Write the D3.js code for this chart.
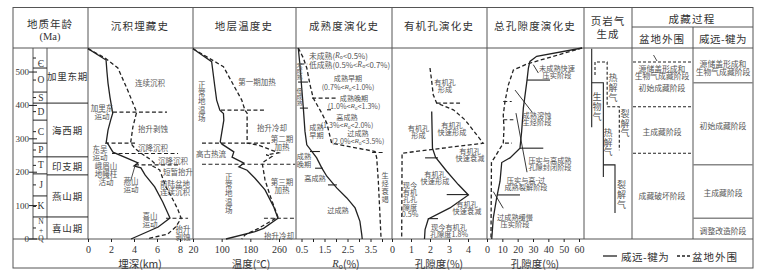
<!DOCTYPE html>
<html><head><meta charset="utf-8">
<script src="https://cdn.jsdelivr.net/npm/d3@7"></script>
<style>
body{margin:0;background:#fff}
svg{display:block}
text{font-family:"Noto Sans CJK SC","Noto Sans",sans-serif;fill:#555}
.num{font-family:"Liberation Serif","DejaVu Serif",serif}
.head{fill:#333}
.vt{writing-mode:vertical-rl;text-orientation:upright}
</style></head><body><svg id="chart"></svg>
<script>
// 地质年龄 (Ma) 刻度与分期
const ageTicks = [0, 100, 200, 300, 400, 500];
const periods = ["Є", "O", "S", "D", "C", "P", "T", "J", "K", "N+Q"];
const periodBounds = [572, 512, 440, 407, 356, 287, 246, 195, 129, 66, 0];
const eras = ["加里东期", "海西期", "印支期", "燕山期", "喜山期"];
const eraBounds = [572, 407, 246, 192, 66, 0];

// 曲线数据 [年龄Ma, 值]，实线=威远-犍为，虚线=盆地外围
const burialSolid = [[570,0],[536,1.57],[500,1.65],[467,1.74],[425,1.91],[377,2.15],[356,1.97],[326,1.74],[291,1.59],[281,1.8],[260,2.17],[237,3.74],[228,4.35],[219,4.0],[213,4.6],[192,4.96],[156,5.8],[111,6.5],[63,7.13],[36,6.1],[0,3.74]];
const burialDashed = [[570,0],[542,1.48],[512,2.6],[452,3.37],[416,3.8],[380,4.23],[335,3.9],[305,3.78],[287,3.7],[272,4.06],[257,4.6],[237,5.48],[226,5.8],[218,5.65],[207,6.23],[156,6.78],[117,7.4],[87,7.83],[62,8.1],[37,7.65],[15,6.95],[0,5.1]];
const tempSolid = [[570,20],[531,72],[456,81],[416,86],[386,95],[376,105],[356,106],[291,96],[284,101],[261,134],[245,129],[227,162],[216,148],[206,171],[182,193],[147,221],[97,245],[62,257],[32,217],[22,193],[0,112]];
const tempDashed = [[570,20],[516,105],[416,156],[386,165],[377,171],[287,171],[281,203],[258,259],[252,224],[247,240],[228,213],[177,221],[127,236],[66,257],[32,203],[12,165],[0,156]];
const roSolid = [[572,0.36],[522,0.43],[452,0.51],[392,0.58],[323,0.65],[282,0.73],[263,0.94],[243,1.16],[213,1.38],[188,1.6],[153,2.03],[123,2.47],[93,2.83],[53,3.04],[13,3.12],[0,3.14]];
const roDashed = [[572,0.36],[542,0.58],[512,0.73],[462,0.87],[422,1.01],[377,1.38],[347,1.6],[307,1.74],[287,1.81],[262,3.7],[243,3.77],[173,3.84],[73,3.91],[0,3.96]];
const orgSolid = [[382,2.09],[272,2.13],[245,2.29],[203,2.88],[163,3.49],[132,4.02],[93,3.05],[60,1.91],[28,1.74],[0,1.71]];
const orgDashed = [[512,2.0],[472,2.09],[432,2.17],[407,2.35],[387,3.23],[357,3.84],[287,4.8],[257,0.53],[0,0.51]];
const totSolid = [[572,62],[547,32.4],[532,28],[512,27],[472,26],[392,23.7],[322,22.6],[272,21.5],[243,15],[229,9.6],[173,8.5],[123,6.3],[63,4.1],[0,3.1]];
const totDashed = [[572,62],[524,26],[506,17.2],[461,13.9],[411,11.7],[371,10.6],[332,11.1],[287,10.6],[246,5.2],[230,2.9],[0,2.6]];

// 事件/阶段分界线 [年龄, 起值, 止值]
const burialMarks = [[380,2.17,6.87],[287,1.48,4.26],[256,2.09,7.83],[222,4.09,8.0],[62,6.78,8.7]];
const tempMarks = [[386,98,221],[287,45,235],[224,45,305],[62,218,305]];
const roDashMarks = [[524,0.45,0.75],[422,0.96,2.09],[387,1.61,1.87],[259,3.57,4.13]];
const roSolidMarks = [[470,0.35,0.78],[392,0.43,0.78],[262,0.87,1.3],[212,1.09,1.43],[162,1.65,2.04]];
const orgDashMarks = [[407,2.35,3.58]];
const orgSolidMarks = [[243,1.74,2.42],[133,2.88,4.02],[61,1.89,2.42]];
const totSolidMarks = [[476,26.1,41.1],[272,21.5,36.7],[132,6.5,21.5]];
const totDashMarks = [[412,10.6,16.1],[357,10.6,17.2],[287,11.7,16.3]];
const totLeaders = [[[446,18.3],[380,29.4]],[[377,18.9],[200,26.1]],[[142,4.1],[92,10.6]],[[522,30.2],[497,33.5]]];

// 页岩气生成阶段 [年龄, 列号]
const gasSolidSteps = [[[570,0],[335,0]],[[468,0],[468,1],[186,1]],[[222,1],[222,2],[78,2]]];
const gasDashedSteps = [[[491,0],[530,0],[530,1],[396,1],[396,2],[266,2]]];

// 成藏阶段分界 (Ma)
const basinStages = [530, 396, 257];
const weiyuanStages = [468, 222, 62];

const W = 769, H = 275, plotTop = 48, plotBottom = 239;
const cols = [13, 88, 193, 296, 392, 487, 584, 632, 753];
const svg = d3.select("#chart").attr("width", W).attr("height", H);

const y = d3.scaleLinear().domain([0, 572]).range([plotBottom, plotTop]);
const xBurial = d3.scaleLinear().domain([0, 8]).range([88, 180]);
const xTemp = d3.scaleLinear().domain([20, 260]).range([193, 279]);
const xRo = d3.scaleLinear().domain([0.5, 3.5]).range([301.5, 370.5]);
const xOrg = d3.scaleLinear().domain([0, 4]).range([392, 468]);
const xTot = d3.scaleLinear().domain([0, 60]).range([487, 579]);
const xGasS = d3.scaleLinear().domain([0, 2]).range([591.7, 615]);
const xGasD = d3.scaleLinear().domain([0, 2]).range([595, 619.3]);

const ink = "#222", frame = "#555";

function hline(x1, x2, yy, color = frame, w = 1, dash = null) {
  svg.append("line").attr("x1", x1).attr("x2", x2).attr("y1", yy).attr("y2", yy)
    .attr("stroke", color).attr("stroke-width", w).attr("stroke-dasharray", dash);
}
function vline(xx, y1, y2, color = frame, w = 1, dash = null) {
  svg.append("line").attr("x1", xx).attr("x2", xx).attr("y1", y1).attr("y2", y2)
    .attr("stroke", color).attr("stroke-width", w).attr("stroke-dasharray", dash);
}
// 多行文字；"§" 处插入斜体 R 加下标 o
function label(x, yy, lines, size = 7.5, lh = size + 0.5, anchor = "middle", cls = null) {
  if (!Array.isArray(lines)) lines = [lines];
  const t = svg.append("text").attr("x", x).attr("y", yy).attr("font-size", size)
    .attr("text-anchor", anchor).attr("class", cls);
  lines.forEach((ln, i) => {
    const parts = String(ln).split("§");
    t.append("tspan").attr("x", x).attr("dy", i ? lh : 0).attr("dominant-baseline", "central").text(parts[0]);
    parts.slice(1).forEach(p => {
      t.append("tspan").attr("font-style", "italic").attr("class", "num").attr("dominant-baseline", "central").text("R");
      t.append("tspan").attr("font-size", size * 0.65).attr("dy", size * 0.25).attr("dominant-baseline", "central").text("o");
      t.append("tspan").attr("dy", -size * 0.25).attr("dominant-baseline", "central").text(p);
    });
  });
  return t;
}
// 竖排文字：y0 为首字中心，step 为字距
function vlabel(x, y0, str, step, size = 7.5, cls = "") {
  return svg.append("text").attr("class", "vt " + cls).attr("x", x).attr("y", y0 - size / 2)
    .attr("font-size", size).attr("letter-spacing", step - size).text(str);
}

// 外框与分栏
svg.append("rect").attr("x", 13).attr("y", 7.5).attr("width", 740).attr("height", 260.5)
  .attr("fill", "none").attr("stroke", frame);
hline(13, 753, plotTop); hline(13, 753, plotBottom); hline(632, 753, 27);
cols.slice(1, -1).forEach(c => vline(c, 7.5, plotBottom));
vline(693, 27, plotBottom);

// 表头
const hs = 10.5;
label(50, 23, "地质年龄", hs, 0, "middle", "head").attr("letter-spacing", 1);
label(50, 36, "(Ma)", hs, 0, "middle", "num head");
[["沉积埋藏史", 140], ["地层温度史", 244], ["成熟度演化史", 344], ["有机孔演化史", 439], ["总孔隙度演化史", 535]]
  .forEach(([t, x]) => label(x, 25, t, hs, 0, "middle", "head").attr("letter-spacing", 1.2));
label(608, 20, "页岩气", hs, 0, "middle", "head").attr("letter-spacing", 1);
label(608, 33, "生成", hs, 0, "middle", "head").attr("letter-spacing", 1);
label(692, 18, "成藏过程", hs, 0, "middle", "head").attr("letter-spacing", 1.2);
label(662, 38, "盆地外围", hs, 0, "middle", "head").attr("letter-spacing", 1);
label(723, 38, "威远-犍为", hs, 0, "middle", "head").attr("letter-spacing", 0.5);

// 地质年龄栏
vline(33, plotTop, plotBottom); vline(47, plotTop, plotBottom);
ageTicks.forEach(a => {
  hline(29, 37, y(a), ink);
  label(29, y(a), a, 9, 0, "end", "num head");
});
periods.forEach((p, i) => {
  const a0 = periodBounds[i], a1 = periodBounds[i + 1];
  if (i > 0) hline(33, 47, y(a0), ink);
  hline(33, 36, y((a0 + a1) / 2), ink);
  const cy = (y(a0) + y(a1)) / 2;
  if (p === "N+Q") vlabel(41, cy - 7, "N+Q", 7, 7.5, "num head");
  else label(41, cy + (i === 0 ? 6 : 0), p, 9.5, 0, "middle", "num head");
});
eras.forEach((e, i) => {
  const a0 = eraBounds[i], a1 = eraBounds[i + 1];
  if (i > 0) hline(47, 88, y(a0), ink);
  label(67.5, (y(a0) + y(a1)) / 2, e, 9.5, 0, "middle", "head").attr("letter-spacing", 0.8);
});

// 曲线
function curve(data, sx, dashed) {
  svg.append("path").datum(data)
    .attr("d", d3.line().x(d => sx(d[1])).y(d => y(d[0])))
    .attr("fill", "none").attr("stroke", ink).attr("stroke-width", 1.3)
    .attr("stroke-dasharray", dashed ? "4,2.5" : null);
}
function marks(list, sx, dashed, color = ink) {
  list.forEach(([a, v0, v1]) => hline(sx(v0), sx(v1), y(a), color, 1.1, dashed ? "4,2.5" : null));
}
curve(burialSolid, xBurial, false); curve(burialDashed, xBurial, true);
curve(tempSolid, xTemp, false); curve(tempDashed, xTemp, true);
curve(roSolid, xRo, false); curve(roDashed, xRo, true);
curve(orgSolid, xOrg, false); curve(orgDashed, xOrg, true);
curve(totSolid, xTot, false); curve(totDashed, xTot, true);
marks(burialMarks, xBurial, true); marks(tempMarks, xTemp, true);
marks(roDashMarks, xRo, true); marks(roSolidMarks, xRo, false);
marks(orgDashMarks, xOrg, true); marks(orgSolidMarks, xOrg, false);
marks(totSolidMarks, xTot, false); marks(totDashMarks, xTot, true);
totLeaders.forEach(seg => svg.append("path").datum(seg)
  .attr("d", d3.line().x(d => xTot(d[1])).y(d => y(d[0])))
  .attr("stroke", ink).attr("stroke-width", 0.9).attr("fill", "none"));
// 燕山运动引线
svg.append("path").datum([[174, 3.71], [216, 4.06]])
  .attr("d", d3.line().x(d => xBurial(d[1])).y(d => y(d[0])))
  .attr("stroke", ink).attr("stroke-width", 0.8);

// 页岩气生成
gasSolidSteps.forEach(s => svg.append("path").datum(s)
  .attr("d", d3.line().x(d => xGasS(d[1])).y(d => y(d[0])))
  .attr("fill", "none").attr("stroke", ink).attr("stroke-width", 1.1));
gasDashedSteps.forEach(s => svg.append("path").datum(s)
  .attr("d", d3.line().x(d => xGasD(d[1])).y(d => y(d[0])))
  .attr("fill", "none").attr("stroke", ink).attr("stroke-width", 1.1).attr("stroke-dasharray", "3,2"));
vlabel(597, 97, "生物气", 10, 9);
vlabel(613, 78, "热解气", 10, 9);
vlabel(625, 114, "裂解气", 9.5, 9);
vlabel(608, 133, "热解气", 9.5, 9);
vlabel(621.5, 185, "裂解气", 10, 9);

// 成藏阶段
basinStages.forEach(a => hline(633, 692, y(a), ink, 1.1, "3,2"));
weiyuanStages.forEach(a => hline(693, 753, y(a), "#888", 1.5));
svg.append("line").attr("x1", 653.5).attr("y1", 55).attr("x2", 657).attr("y2", 61)
  .attr("stroke", ink).attr("stroke-width", 0.8);
[[662, 68, ["源储盖形成和", "生物气成藏阶段"]], [662, 87.5, "初始成藏阶段"], [662, 131, "主成藏阶段"], [662, 195, "成藏破坏阶段"],
 [723, 63.5, ["源储盖形成和", "生物气成藏阶段"]], [723, 125, "初始成藏阶段"], [723, 192.5, "主成藏阶段"], [723, 230, "调整改造阶段"]]
  .forEach(([x, yy, t]) => label(x, yy, t, 7.8, 7.8));

// 沉积埋藏史注记
[[150, 82, "连续沉积"], [102, 107, ["加里东", "运动"]], [153, 128, "抬升剥蚀"], [100, 148, ["东吴", "运动"]],
 [106, 165, ["峨眉山", "地幔柱", "活动"]], [131, 180, ["燕山", "运动"]],
 [153, 147.5, "沉降沉积"], [173, 160, "沉降沉积"], [178, 171.5, "短暂抬升"], [175, 183, ["前陆盆地", "连续沉积"]],
 [150, 215, ["喜山", "运动"]], [183, 228, ["抬升", "剥蚀"]]]
  .forEach(([x, yy, t]) => label(x, yy, t, 7.5, 8.2));

// 地层温度史注记
vlabel(201.7, 85, "正常地温场", 8.3, 7.5);
vlabel(228.7, 177, "正常地温场", 8.3, 7.5);
[[257, 81.7, "第一期加热"], [272, 127, "抬升冷却"], [282, 138.5, ["第二期", "加热"]], [211, 153.5, "高古热流"],
 [282, 181.5, ["第三期", "加热"]], [279, 235, "抬升冷却"]]
  .forEach(([x, yy, t]) => label(x, yy, t, 7.5, 8.2));

// 成熟度注记
label(309, 55, ["未成熟(§<0.5%)", "低成熟(0.5%<§<0.7%)"], 7.8, 9, "start");
label(348, 78, ["成熟早期", "(0.7%<§<1.0%)"], 7.1, 8.8);
label(354, 98, ["成熟晚期", "(1.0%<§<1.3%)"], 7.1, 8);
label(347, 117, ["高成熟", "(1.3%<§<2.0%)"], 7.1, 8);
label(358, 133, ["过成熟", "(2.0%<§<3.5%)"], 7.1, 8);
vlabel(299.5, 65, "未成熟", 6, 6);
vlabel(299.5, 91, "低成熟", 6, 6);
[[316.5, 127, ["成熟", "早期"]], [304, 156, ["成熟", "晚期"]], [315, 178, "高成熟"], [338, 209.5, "过成熟"]]
  .forEach(([x, yy, t]) => label(x, yy, t, 7.2, 7.5));
vlabel(385, 175, "生烃衰竭", 8, 7.2);

// 有机孔注记
[[445, 81.5, ["有机孔", "形成"]], [418.5, 128, ["有机孔", "形成"]], [452, 125, ["有机孔", "快速形成"]],
 [470, 151, ["有机孔", "快速衰减"]], [435, 174, ["有机孔", "快速形成"]], [467, 204, ["有机孔", "快速衰减"]],
 [410, 185, ["现今", "有机", "孔孔", "隙度", "0.5%"]], [449, 227, ["现今有机孔", "孔隙度1.8%"]]]
  .forEach(([x, yy, t]) => label(x, yy, t, 7.2, 7.2));

// 总孔隙度注记
[[557, 68, ["未成熟快速", "压实阶段"]], [537, 115, ["成熟溶蚀", "生烃阶段"]], [550, 160, ["压实与高成熟", "孔隙封闭阶段"]],
 [526, 180, ["压实与高-过", "成熟裂解阶段"]], [515, 217, ["过成熟缓慢", "压实阶段"]]]
  .forEach(([x, yy, t]) => label(x, yy, t, 7.2, 6.8));

// 底部坐标轴
function axis(sc, vals, fmt) {
  const g = svg.append("g").attr("transform", `translate(0,${plotBottom})`)
    .call(d3.axisBottom(sc).tickValues(vals).tickSize(3).tickPadding(4).tickFormat(fmt));
  g.select(".domain").remove();
  g.selectAll("line").attr("stroke", ink);
  g.selectAll("text").attr("font-size", 10).attr("class", "num").style("fill", "#333");
}
axis(xBurial, [0, 2, 4, 6, 8], d3.format("d"));
axis(xTemp, [20, 100, 180, 260], d3.format("d"));
axis(xRo, [0.5, 1, 1.5, 2, 2.5, 3, 3.5, 4], d => [0.5, 1.5, 2.5, 3.5].includes(d) ? d3.format(".1f")(d) : "");
axis(xOrg, [0, 1, 2, 3, 4], d3.format("d"));
axis(xTot, [0, 10, 20, 30, 40, 50, 60], d3.format("d"));

label(140, 263, "埋深(km)", 10.5, 0, "middle", "head");
label(251, 263, "温度(℃)", 10.5, 0, "middle", "head");
label(346, 263, "§(%)", 10.5, 0, "middle", "head");
label(439, 263, "孔隙度(%)", 10.5, 0, "middle", "head");
label(535, 263, "孔隙度(%)", 10.5, 0, "middle", "head");

// 图例
hline(603, 617, 256, ink, 1.3);
label(621, 256, "威远-犍为", 10.5, 0, "start", "head").attr("letter-spacing", 0.5);
hline(677, 690, 256, ink, 1.3, "3,2");
label(692, 256, "盆地外围", 10.5, 0, "start", "head").attr("letter-spacing", 1);
</script></body></html>
